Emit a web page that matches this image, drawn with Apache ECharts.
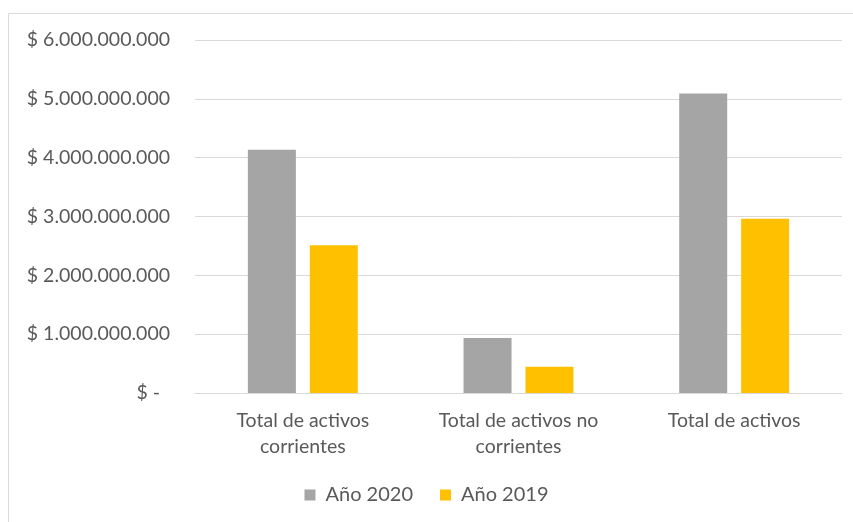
<!DOCTYPE html>
<html>
<head>
<meta charset="utf-8">
<script src="https://cdn.jsdelivr.net/npm/echarts@6/dist/echarts.min.js"></script>
<style>html,body{margin:0;padding:0;background:#fff}#c{width:853px;height:522px}</style>
</head>
<body>
<div id="c"></div>
<script>
const categories = ["Total de activos\ncorrientes", "Total de activos no\ncorrientes", "Total de activos"];
const seriesNames = ["Año 2020", "Año 2019"];
const values2020 = [4134000000, 934000000, 5090000000];
const values2019 = [2510000000, 447000000, 2960000000];
const yTicks = [0, 1000000000, 2000000000, 3000000000, 4000000000, 5000000000, 6000000000];

function fmt(v){
  if (v === 0) return "$ -  ";
  return "$ " + String(Math.round(v)).replace(/\B(?=(\d{3})+(?!\d))/g, ".");
}
const font = "Lato, 'Open Sans', sans-serif";
const txt = "#595959";
const chart = echarts.init(document.getElementById('c'), null, {renderer:'canvas'});
chart.setOption({
  animation:false,
  backgroundColor:'#fff',
  graphic:[{type:'rect', shape:{x:8.5,y:13.5,width:900,height:600}, style:{fill:'none', stroke:'#d9d9d9', lineWidth:1}, silent:true}],
  grid:{left:195, right:11, top:40, bottom:129},
  legend:{bottom:12, left:'center', itemWidth:11, itemHeight:11, itemGap:27, icon:'rect',
    textStyle:{color:txt, fontSize:20, fontFamily:font, padding:[0,0,0,5]}, data:seriesNames},
  xAxis:{type:'category', data:categories,
    axisLine:{lineStyle:{color:'#d9d9d9', width:1}}, axisTick:{show:false},
    axisLabel:{color:txt, fontSize:19.5, fontFamily:font, lineHeight:26, margin:15, interval:0}},
  yAxis:{type:'value', min:yTicks[0], max:yTicks[yTicks.length-1], interval:1000000000,
    axisLine:{show:false}, axisTick:{show:false},
    splitLine:{lineStyle:{color:'#d9d9d9', width:1}},
    axisLabel:{color:txt, fontSize:19.5, fontFamily:font, margin:25, formatter:fmt}},
  series:[
    {name:seriesNames[0], type:'bar', data:values2020, barWidth:48, barGap:'29%', itemStyle:{color:'#A5A5A5'}},
    {name:seriesNames[1], type:'bar', data:values2019, barWidth:48, itemStyle:{color:'#FFC000'}}
  ]
});
</script>
</body>
</html>
